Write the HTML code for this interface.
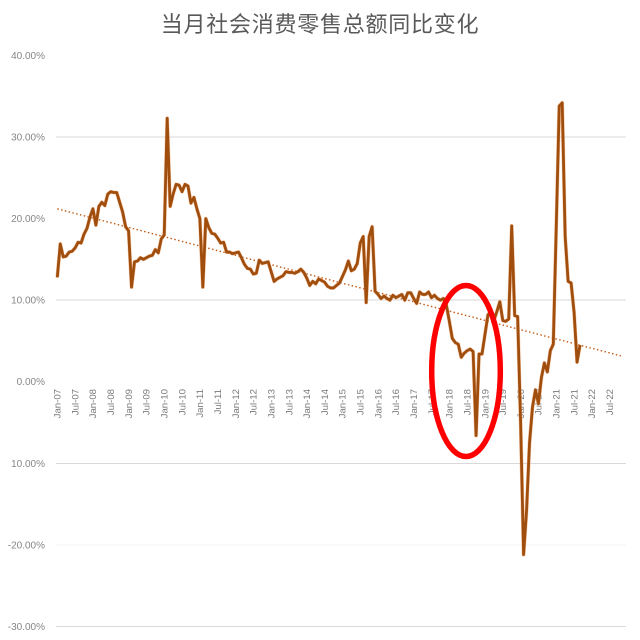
<!DOCTYPE html>
<html lang="zh">
<head>
<meta charset="utf-8">
<title>当月社会消费零售总额同比变化</title>
<style>
html,body{margin:0;padding:0;background:#fff;width:640px;height:640px;overflow:hidden}
svg{display:block}
.tick{font-family:"Liberation Sans","Noto Sans CJK SC",sans-serif;font-size:10px;fill:#868686}
.xtick{font-family:"Liberation Sans","Noto Sans CJK SC",sans-serif;font-size:9.6px;fill:#7a7a7a}
.title{font-family:"Liberation Sans","Noto Sans CJK SC",sans-serif;font-size:22px;fill:#595959;letter-spacing:0.75px}
</style>
</head>
<body>
<svg id="chart" xmlns="http://www.w3.org/2000/svg" width="640" height="640" viewBox="0 0 640 640">
  <rect x="0" y="0" width="640" height="640" fill="#ffffff"></rect>
  <text class="title" x="320" y="32" text-anchor="middle">当月社会消费零售总额同比变化</text>
  <g id="grid"></g>
  <g id="yticks"></g>
  <g id="xticks"></g>
  <g id="series"></g>
  <ellipse cx="466" cy="371" rx="34.3" ry="85.5" fill="none" stroke="#ff0000" stroke-width="5.5"></ellipse>
</svg>
<script>
const retailGrowth = [
  12.8,16.9,15.3,15.4,15.9,16.0,16.4,17.1,17.0,18.1,18.8,20.2,
  21.2,19.2,21.5,22.0,21.6,23.0,23.3,23.2,23.2,22.0,20.8,19.0,
  18.5,11.6,14.7,14.8,15.2,15.0,15.2,15.4,15.5,16.2,15.8,17.5,
  18.0,32.3,21.5,23.0,24.2,24.1,23.3,24.2,24.0,21.9,22.6,21.2,
  20.0,11.6,20.0,18.9,18.2,18.1,17.6,17.0,17.1,15.9,15.9,15.7,
  15.8,15.9,15.2,14.4,13.9,13.8,13.2,13.3,14.9,14.5,14.6,14.7,
  13.5,12.3,12.6,12.8,13.0,13.5,13.4,13.4,13.3,13.5,13.8,13.4,
  12.7,11.8,12.3,12.0,12.6,12.4,12.2,11.7,11.5,11.5,11.8,12.1,
  12.9,13.7,14.8,13.6,13.8,14.5,17.0,17.8,9.7,17.8,19.0,11.1,
  10.7,10.2,10.5,10.2,10.0,10.6,10.3,10.5,10.7,10.0,10.9,10.9,
  10.2,9.6,11.0,10.7,10.7,11.0,10.3,10.6,10.2,10.0,10.2,9.4,
  7.4,5.3,4.8,4.6,3.0,3.5,3.8,4.0,3.7,-6.6,3.4,3.4,
  5.8,8.2,8.6,7.5,8.6,9.8,7.5,7.4,7.7,19.1,8.1,8.0,
  -5.0,-21.2,-15.8,-7.5,-3.1,-1.0,-2.7,0.5,2.3,1.2,3.8,4.6,
  19.0,33.8,34.2,17.8,12.3,12.1,8.5,2.4,4.5
];
const trendMonths = [0, 190.5];
const trendValues = [21.2, 3.1];
const yTickValues = [40, 30, 20, 10, 0, -10, -20, -30];
const yTickLabels = ['40.00%','30.00%','20.00%','10.00%','0.00%','10.00%','-20.00%','-30.00%'];
const xTickLabels = [
  'Jan-07','Jul-07','Jan-08','Jul-08','Jan-09','Jul-09','Jan-10','Jul-10',
  'Jan-11','Jul-11','Jan-12','Jul-12','Jan-13','Jul-13','Jan-14','Jul-14',
  'Jan-15','Jul-15','Jan-16','Jul-16','Jan-17','Jul-17','Jan-18','Jul-18',
  'Jan-19','Jul-19','Jan-20','Jul-20','Jan-21','Jul-21','Jan-22','Jul-22'
];

const NS = 'http://www.w3.org/2000/svg';
const xScale = function (m) { return 57.3 + 2.97 * m; };
const yScale = function (v) { return 381.7 - 8.155 * v; };
const gridColor = function (v) {
  if (v === 30 || v === 10 || v === -10 || v === -30) return '#d9d9d9';
  if (v === -20) return '#f6f6f6';
  return null;
};

const gridG = document.getElementById('grid');
const yG = document.getElementById('yticks');
yTickValues.forEach(function (v, i) {
  const c = gridColor(v);
  if (c) {
    const ln = document.createElementNS(NS, 'line');
    ln.setAttribute('x1', 56);
    ln.setAttribute('x2', 626);
    ln.setAttribute('y1', yScale(v));
    ln.setAttribute('y2', yScale(v));
    ln.setAttribute('stroke', c);
    ln.setAttribute('stroke-width', 1);
    ln.setAttribute('shape-rendering', 'crispEdges');
    
    
    gridG.appendChild(ln);
  }
  const t = document.createElementNS(NS, 'text');
  t.setAttribute('class', 'tick');
  t.setAttribute('x', 45);
  t.setAttribute('y', yScale(v) + 3.5);
  t.setAttribute('text-anchor', 'end');
  
  
  t.textContent = yTickLabels[i];
  yG.appendChild(t);
});

const xG = document.getElementById('xticks');
xTickLabels.forEach(function (label, i) {
  const px = xScale(i * 6) + 3.3;
  const t = document.createElementNS(NS, 'text');
  t.setAttribute('class', 'xtick');
  t.setAttribute('text-anchor', 'end');
  t.setAttribute('transform', 'translate(' + px + ',389) rotate(-90)');
  
  
  t.textContent = label;
  xG.appendChild(t);
});

const seriesG = document.getElementById('series');
const points = retailGrowth.map(function (v, i) {
  return xScale(i).toFixed(2) + ',' + yScale(v).toFixed(2);
}).join(' ');

const trend = document.createElementNS(NS, 'line');
trend.setAttribute('x1', xScale(trendMonths[0]));
trend.setAttribute('y1', yScale(trendValues[0]));
trend.setAttribute('x2', xScale(trendMonths[1]));
trend.setAttribute('y2', yScale(trendValues[1]));
trend.setAttribute('stroke', '#c55a11');
trend.setAttribute('stroke-width', 1.4);
trend.setAttribute('stroke-dasharray', '1.5 2.4');


seriesG.appendChild(trend);

const halo = document.createElementNS(NS, 'polyline');
halo.setAttribute('points', points);
halo.setAttribute('fill', 'none');
halo.setAttribute('stroke', '#f4b183');
halo.setAttribute('stroke-width', 3.8);
halo.setAttribute('stroke-opacity', 0.7);
halo.setAttribute('stroke-linejoin', 'round');


seriesG.appendChild(halo);

const line = document.createElementNS(NS, 'polyline');
line.setAttribute('points', points);
line.setAttribute('fill', 'none');
line.setAttribute('stroke', '#a04e0e');
line.setAttribute('stroke-width', 2.8);
line.setAttribute('stroke-linejoin', 'round');


seriesG.appendChild(line);
</script>
</body>
</html>
